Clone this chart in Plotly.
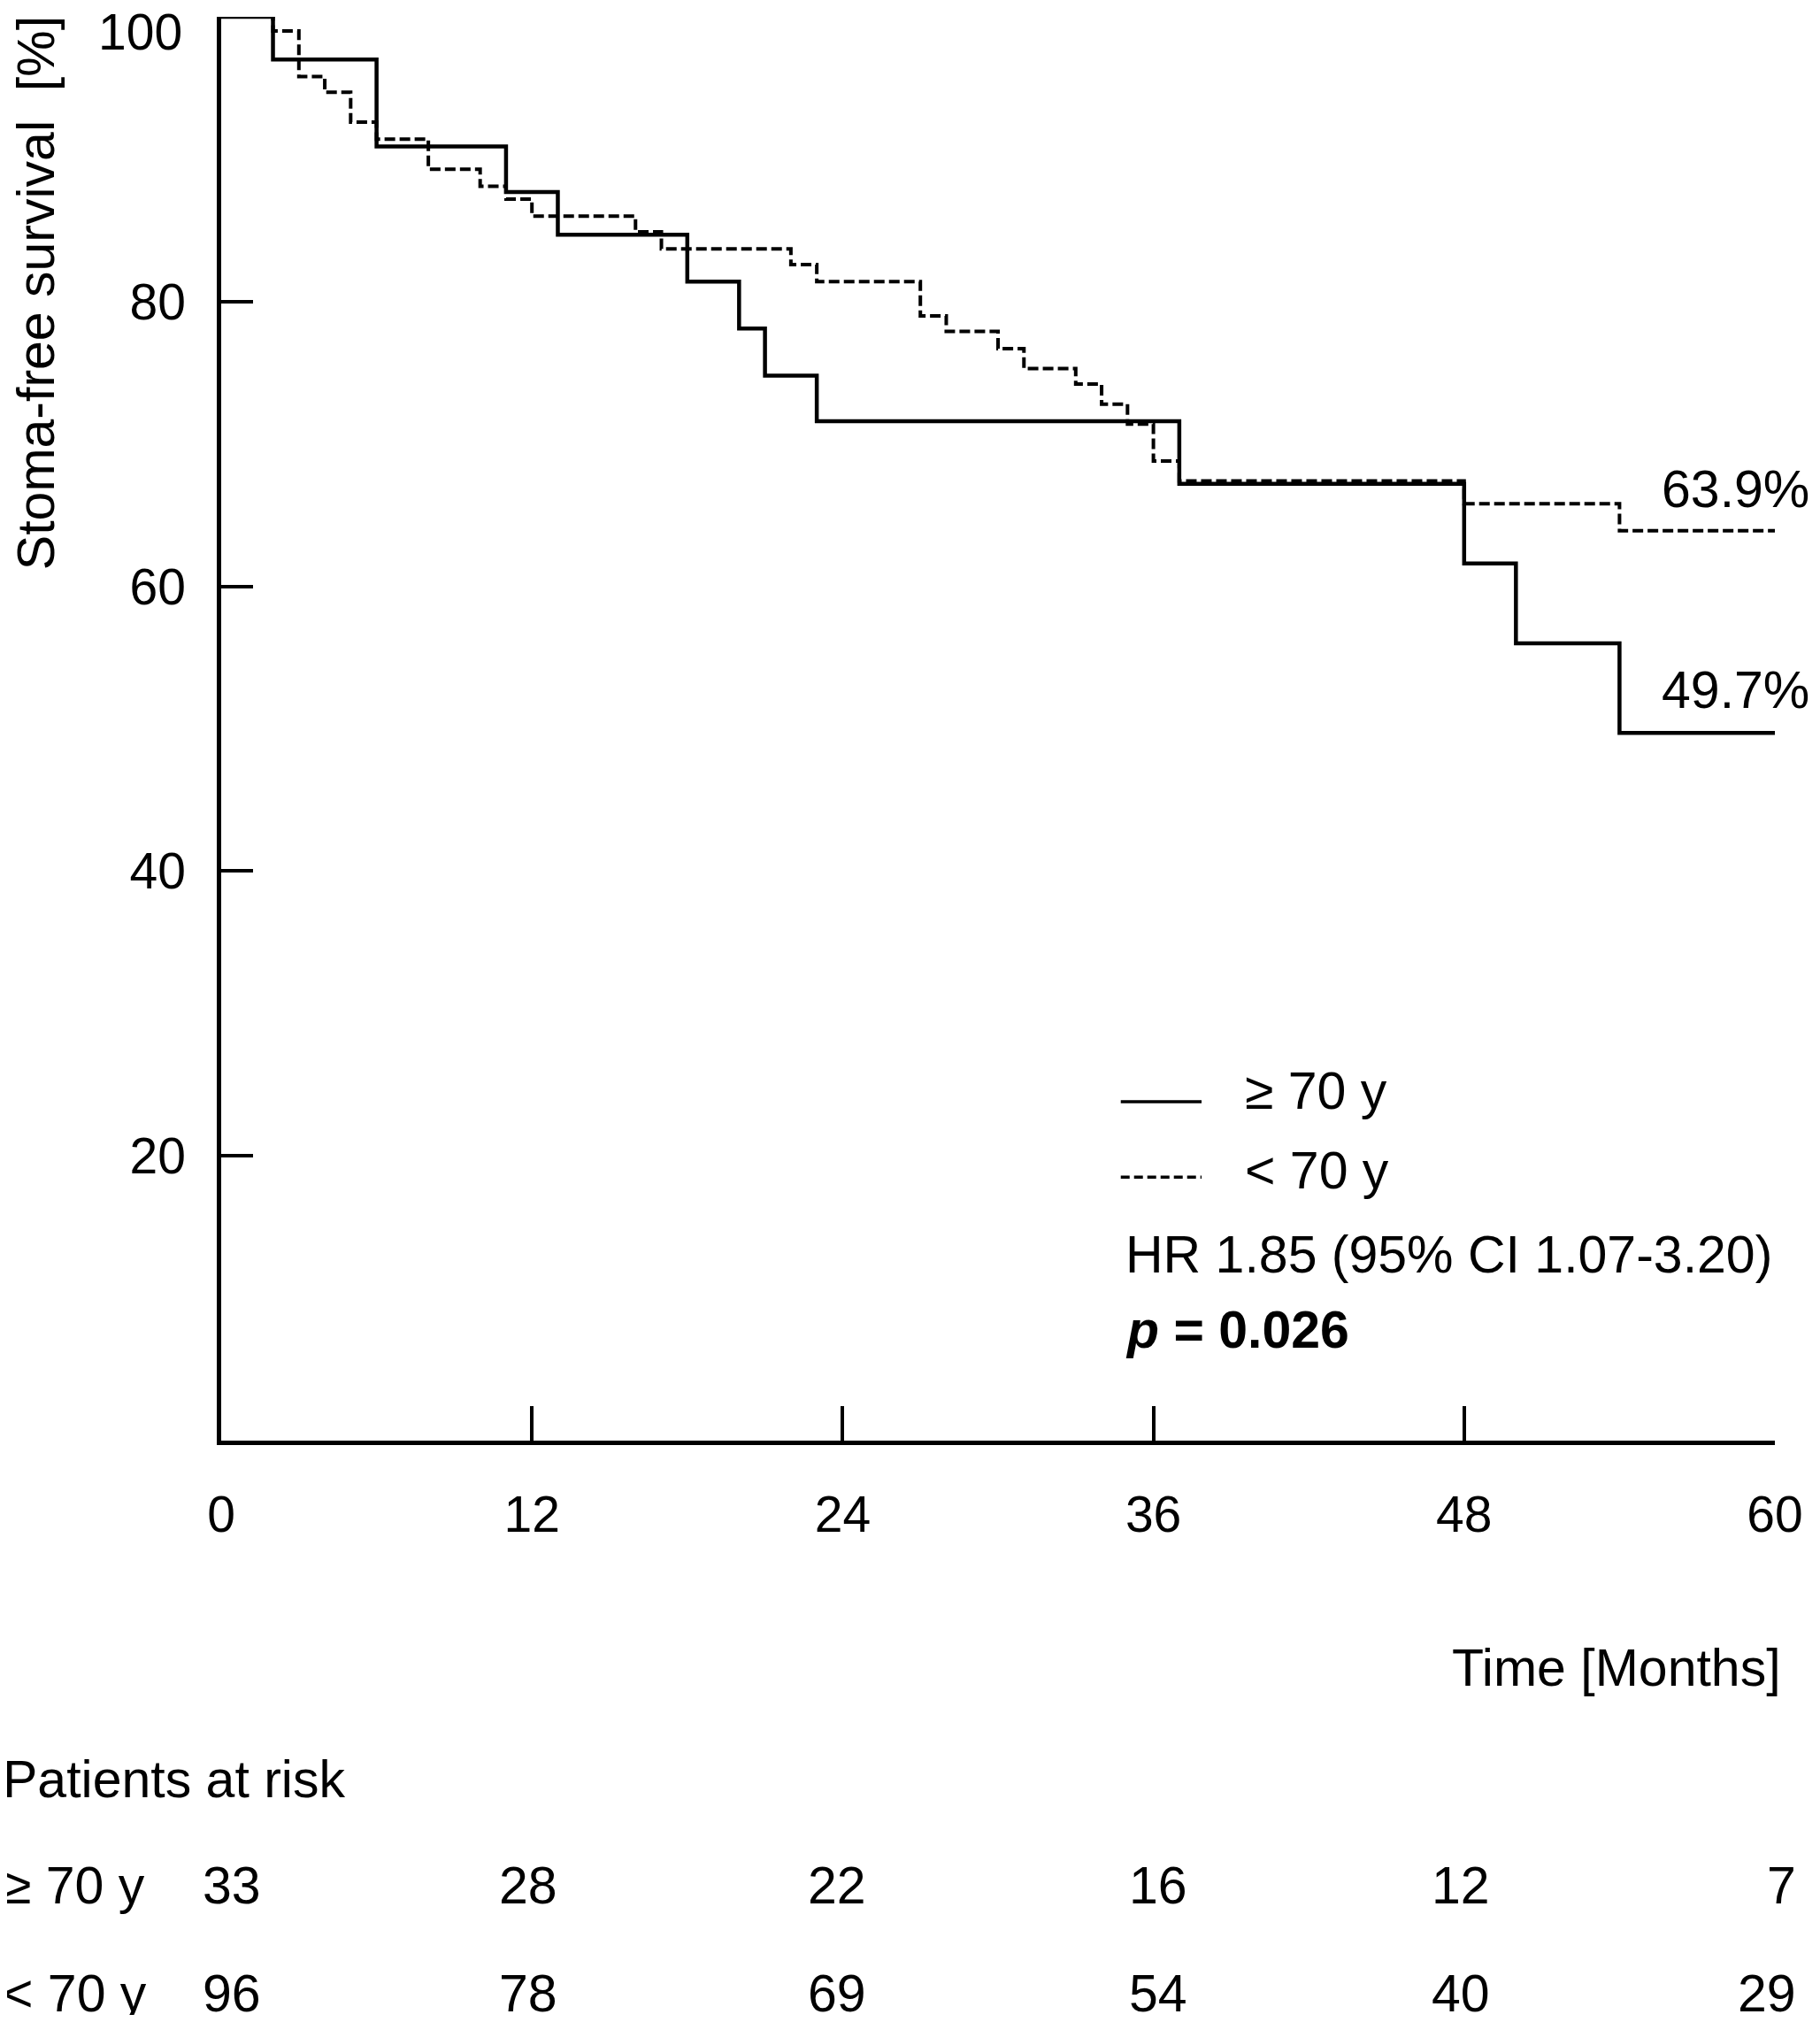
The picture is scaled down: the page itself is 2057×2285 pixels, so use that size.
import plotly.graph_objects as go

# Kaplan-Meier steps (months, % stoma-free)
old_t = [0, 2, 6, 11, 13, 18, 20, 21, 23, 37, 48, 50, 54, 60]
old_s = [100, 97.0, 90.9, 87.7, 84.7, 81.4, 78.1, 74.8, 71.6, 67.2, 61.6, 56.0, 49.7, 49.7]

young_t = [0, 2, 3, 4, 5, 6, 8, 10, 11, 12, 16, 17, 22, 23, 27, 28, 30, 31,
           33, 34, 35, 36, 37, 48, 54, 60]
young_s = [100, 99.0, 95.8, 94.7, 92.6, 91.4, 89.3, 88.1, 87.2, 86.0, 84.9, 83.7,
           82.6, 81.4, 79.0, 77.9, 76.7, 75.3, 74.2, 72.8, 71.4, 68.8, 67.4, 65.8,
           63.9, 63.9]

x_ticks = [0, 12, 24, 36, 48, 60]
y_ticks = [20, 40, 60, 80, 100]
y_labels = ["20", "40", "60", "80", ""]   # "100" is placed by hand, lower

risk_old = [33, 28, 22, 16, 12, 7]
risk_young = [96, 78, 69, 54, 40, 29]

FONT = "Liberation Sans, Arial, sans-serif"
FS = 59
TFS = 57

fig = go.Figure()

fig.add_trace(go.Scatter(x=young_t, y=young_s, mode="lines", line_shape="hv",
                         line=dict(color="black", width=4, dash="12px,5px"),
                         cliponaxis=False, showlegend=False, name="< 70 y"))
fig.add_trace(go.Scatter(x=old_t, y=old_s, mode="lines", line_shape="hv",
                         line=dict(color="black", width=4.5),
                         cliponaxis=False, showlegend=False, name="≥ 70 y"))

ann = []
ann.append(dict(x=0, y=100, text="100", xanchor="right", yanchor="middle",
                xshift=-42, yshift=-17, showarrow=False, font=dict(size=TFS)))

# end-of-curve labels
ann.append(dict(x=old_t[-1], y=young_s[-1], text="63.9%", xanchor="right",
                yanchor="middle", xshift=41, yshift=47, showarrow=False))
ann.append(dict(x=old_t[-1], y=old_s[-1], text="49.7%", xanchor="right",
                yanchor="middle", xshift=41, yshift=48, showarrow=False))

# legend block
ann.append(dict(x=0.658, y=0.2455, xref="paper", yref="paper", text="≥ 70 y",
                xanchor="left", yanchor="middle", showarrow=False))
ann.append(dict(x=0.658, y=0.1896, xref="paper", yref="paper", text="< 70 y",
                xanchor="left", yanchor="middle", showarrow=False))
ann.append(dict(x=0.581, y=0.1305, xref="paper", yref="paper",
                text="HR 1.85 (95% CI 1.07-3.20)",
                xanchor="left", yanchor="middle", showarrow=False))
ann.append(dict(x=0.581, y=0.0777, xref="paper", yref="paper",
                text="<b><i>p</i> = 0.026</b>",
                xanchor="left", yanchor="middle", showarrow=False))

# axis titles
ann.append(dict(x=-0.119, y=0.806, xref="paper", yref="paper",
                text="Stoma-free survival\u00a0\u00a0[%]", textangle=-90,
                xanchor="center", yanchor="middle", showarrow=False))
ann.append(dict(x=1.005, y=-0.160, xref="paper", yref="paper",
                text="Time [Months]", xanchor="right", yanchor="middle",
                showarrow=False))

# patients at risk table
ann.append(dict(x=-0.1418, y=-0.238, xref="paper", yref="paper",
                text="Patients at risk", xanchor="left", yanchor="middle",
                showarrow=False))
ann.append(dict(x=-0.1418, y=-0.3126, xref="paper", yref="paper",
                text="≥ 70 y", xanchor="left", yanchor="middle", showarrow=False))
ann.append(dict(x=-0.1418, y=-0.3884, xref="paper", yref="paper",
                text="< 70 y", xanchor="left", yanchor="middle", showarrow=False))

shifts = [12, -4, -6, 5, -4, 26]
for i, t in enumerate(x_ticks):
    anchor = "right" if i == len(x_ticks) - 1 else "center"
    ann.append(dict(x=t, y=-0.3126, yref="paper", text=str(risk_old[i]),
                    xanchor=anchor, yanchor="middle", xshift=shifts[i],
                    showarrow=False))
    ann.append(dict(x=t, y=-0.3884, yref="paper", text=str(risk_young[i]),
                    xanchor=anchor, yanchor="middle", xshift=shifts[i],
                    showarrow=False))

shapes = [
    dict(type="line", xref="paper", yref="paper", x0=0.579, x1=0.631,
         y0=0.238, y1=0.238, line=dict(color="black", width=3.5)),
    dict(type="line", xref="paper", yref="paper", x0=0.579, x1=0.631,
         y0=0.185, y1=0.185, line=dict(color="black", width=3.5, dash="10px,5px")),
]

# page body has an 8px margin, so the figure is 16px smaller than the window
fig.update_layout(
    width=2041, height=2269,
    margin=dict(l=242, r=36, t=11, b=649),
    paper_bgcolor="white", plot_bgcolor="white",
    font=dict(family=FONT, size=FS, color="black"),
    annotations=ann, shapes=shapes,
    showlegend=False,
)
fig.update_xaxes(range=[0, 60], tickvals=x_ticks, ticks="inside", ticklen=39,
                 tickwidth=4, tickcolor="black", showline=True, linecolor="black",
                 linewidth=4.5, showgrid=False, zeroline=False,
                 ticklabelstandoff=30, tickfont=dict(size=TFS))
fig.update_yaxes(range=[0, 100], tickvals=y_ticks, ticktext=y_labels,
                 ticks="inside", ticklen=36,
                 tickwidth=4, tickcolor="black", showline=True, linecolor="black",
                 linewidth=4.5, showgrid=False, zeroline=False,
                 ticklabelstandoff=24, tickfont=dict(size=TFS))

fig.write_html("out.html")
